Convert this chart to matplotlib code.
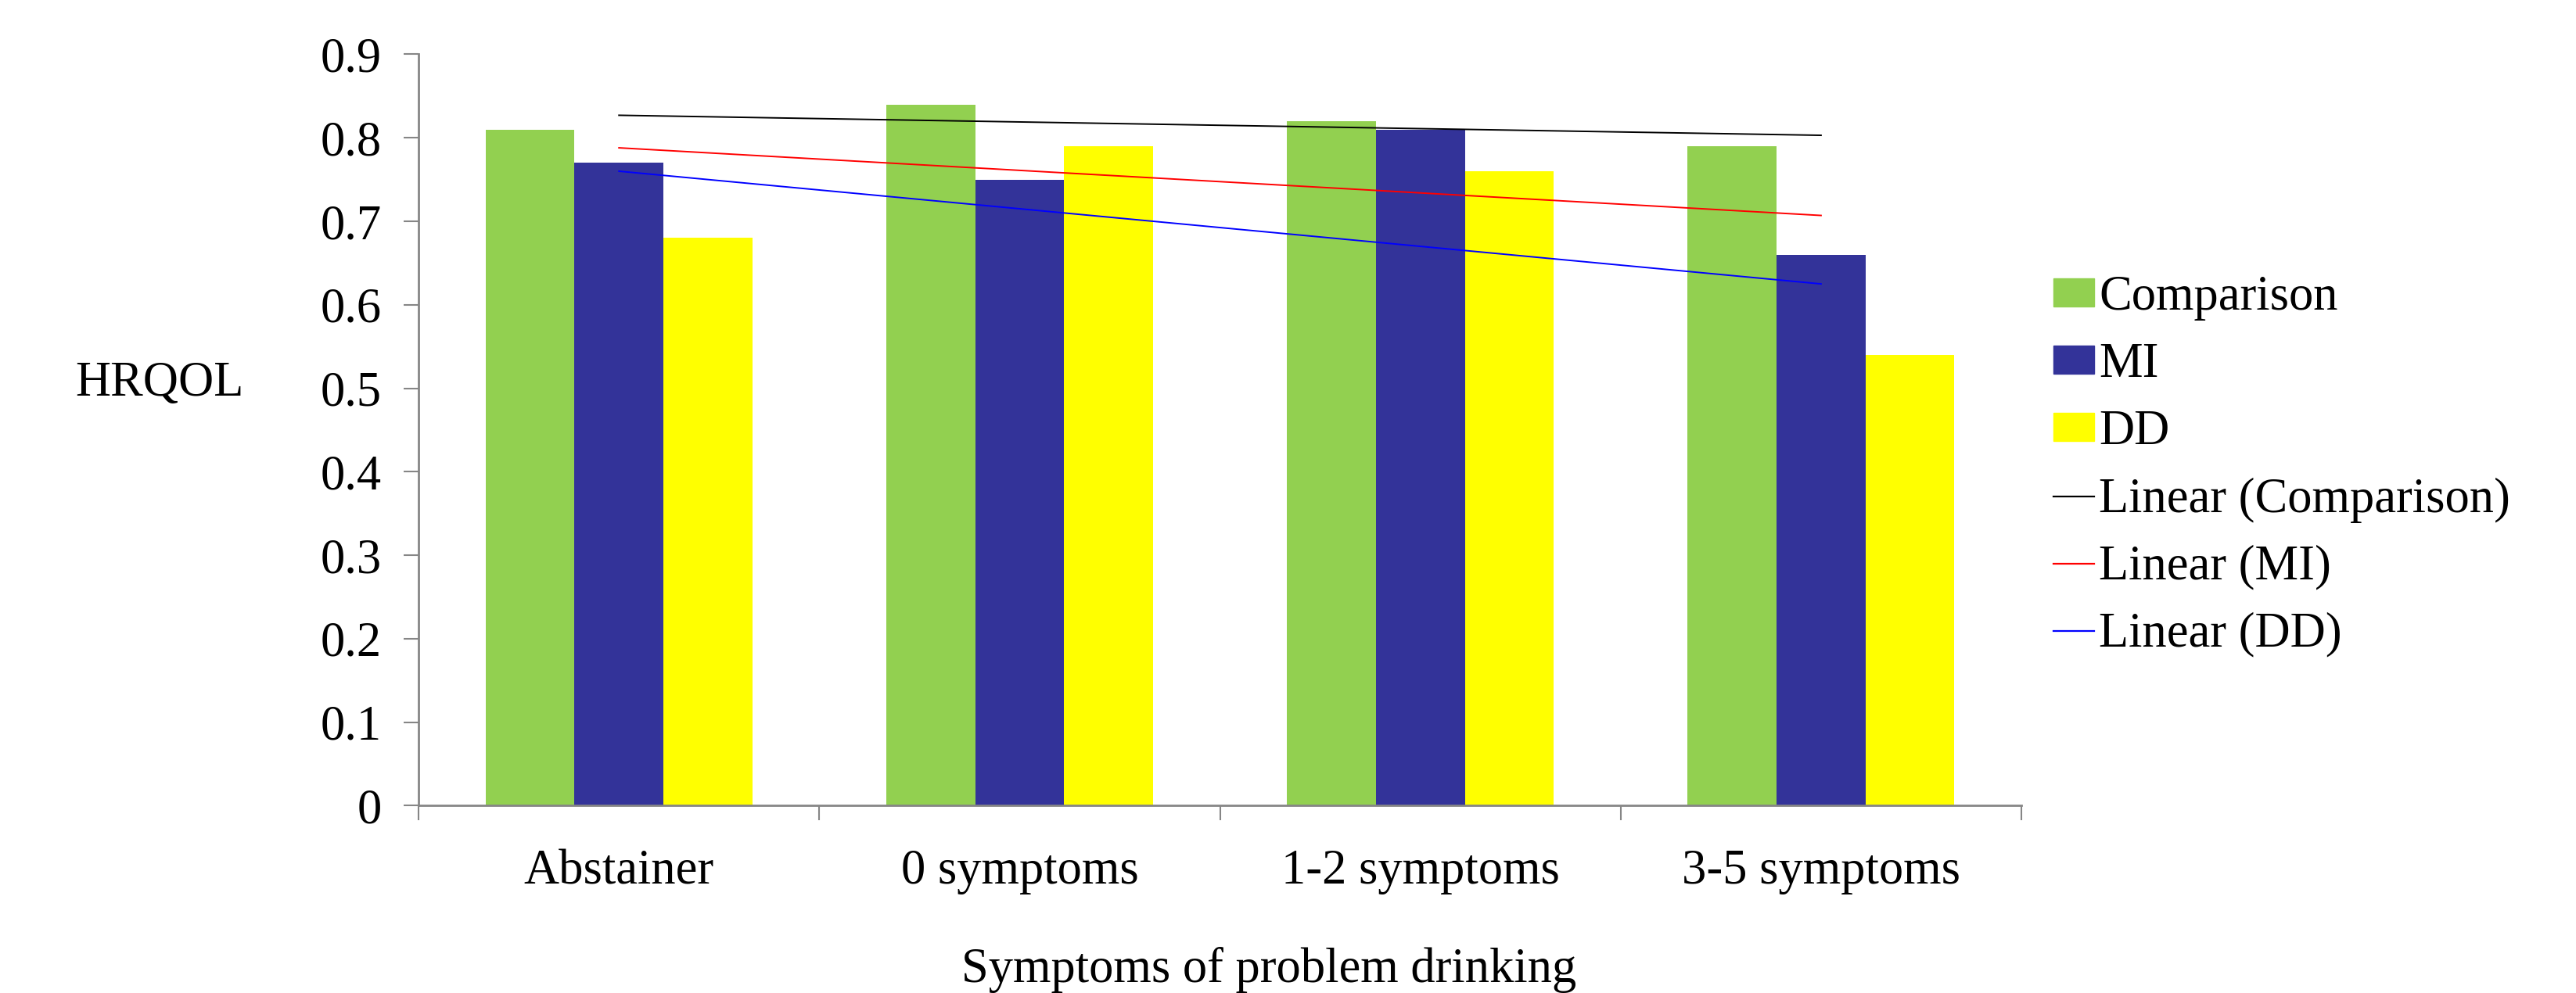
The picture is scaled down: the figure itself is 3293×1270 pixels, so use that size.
import numpy as np
import matplotlib.pyplot as plt
from matplotlib.patches import Patch
from matplotlib.lines import Line2D

plt.rcParams['font.family'] = ['Liberation Serif', 'DejaVu Serif']

categories = ['Abstainer', '0 symptoms', '1-2 symptoms', '3-5 symptoms']
comparison = [0.81, 0.84, 0.82, 0.79]
mi = [0.77, 0.75, 0.81, 0.66]
dd = [0.68, 0.79, 0.76, 0.54]

bar_colors = ['#92D050', '#333399', '#FFFF00']
trend_colors = ['#000000', '#FF0000', '#0000FF']
names = ['Comparison', 'MI', 'DD']
fs = 45

fig = plt.figure(figsize=(32.93, 12.70), dpi=100)
ax = fig.add_axes([0.1625, 0.1886, 0.6222, 0.7567])

x = np.arange(len(categories))
w = 0.222
series = [comparison, mi, dd]
for i, vals in enumerate(series):
    ax.bar(x + (i - 1) * w, vals, width=w, color=bar_colors[i], linewidth=0)

# linear trendlines like Excel
for i, vals in enumerate(series):
    k, b = np.polyfit(x + 1, vals, 1)
    ax.plot(x, k * (x + 1) + b, color=trend_colors[i], linewidth=1.4)

ax.set_xlim(-0.5, 3.5)
ax.set_ylim(0, 0.9)
ax.set_yticks(np.arange(0, 0.91, 0.1))
ax.set_yticklabels(['0'] + ['%.1f' % v for v in np.arange(0.1, 0.91, 0.1)])
ax.set_xticks(x)
ax.set_xticklabels(categories)
ax.set_xticks(np.arange(-0.5, 3.6, 1), minor=True)

for s in ['top', 'right']:
    ax.spines[s].set_visible(False)
for s in ['left', 'bottom']:
    ax.spines[s].set_color('#868686')
    ax.spines[s].set_linewidth(2)

ax.tick_params(axis='y', length=14, width=1.5, color='#868686', labelsize=fs, pad=20)
ax.tick_params(axis='x', which='major', length=0, labelsize=fs, pad=40)
ax.tick_params(axis='x', which='minor', length=14, width=1.5, color='#868686')

fig.text(204 / 3293, 1 - 491 / 1270, 'HRQOL', fontsize=fs, ha='center', va='center')
fig.text(1622 / 3293, 1 - 1240 / 1270, 'Symptoms of problem drinking', fontsize=fs,
         ha='center', va='center')

handles = [Patch(color=c, label=n) for c, n in zip(bar_colors, names)]
handles += [Line2D([], [], color=c, linewidth=1.6, label='Linear (%s)' % n)
            for c, n in zip(trend_colors, names)]
fig.legend(handles=handles, loc='upper left', bbox_to_anchor=(2625 / 3293, 1 - 352 / 1270),
           frameon=False, fontsize=fs, handlelength=0.83, handleheight=0.5,
           handletextpad=0.1, labelspacing=0.45, borderpad=0, borderaxespad=0)

fig.savefig('out.png', dpi=100)
